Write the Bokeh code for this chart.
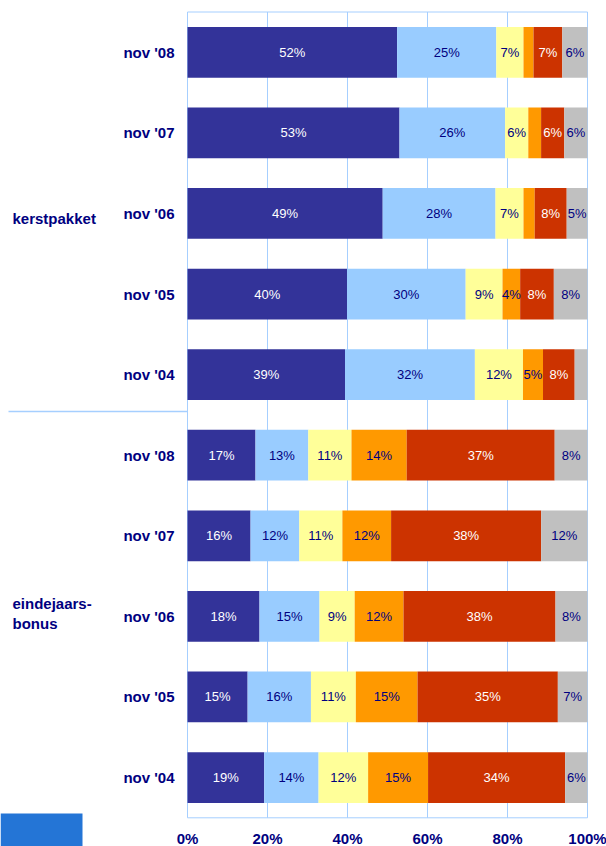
import math
from bokeh.plotting import figure
from bokeh.models import ColumnDataSource, Range1d, BoxAnnotation
from bokeh.core.properties import value
from bokeh.embed import file_html
from bokeh.resources import INLINE

# ---------------- data ----------------
groups = ["kerstpakket"] * 5 + ["eindejaars-bonus"] * 5
periods = ["nov '08", "nov '07", "nov '06", "nov '05", "nov '04"] * 2
# six answer categories (stack order left -> right), values in %
s1 = [52.4, 53.0, 48.8, 39.8, 39.3, 17.0, 15.8, 18.0, 15.0, 19.2]
s2 = [24.8, 26.4, 28.2, 29.6, 32.4, 13.2, 12.2, 15.0, 15.8, 13.6]
s3 = [6.8, 5.8, 7.0, 9.2, 12.0, 10.8, 10.8, 8.8, 11.2, 12.4]
s4 = [2.5, 3.2, 2.8, 4.4, 5.0, 13.8, 12.2, 12.2, 15.4, 15.0]
s5 = [7.2, 5.8, 8.0, 8.4, 7.9, 37.0, 37.6, 38.0, 35.0, 34.3]
s6 = [6.3, 5.8, 5.2, 8.4, 3.2, 8.2, 11.6, 8.0, 7.4, 5.6]
x_ticks = [0, 20, 40, 60, 80, 100]
x_tick_labels = ["0%", "20%", "40%", "60%", "80%", "100%"]

series = [s1, s2, s3, s4, s5, s6]
colors = ["#333399", "#99CCFF", "#FFFF99", "#FF9900", "#CC3300", "#C0C0C0"]
label_colors = ["white", "#000080", "#000080", "#000080", "white", "#000080"]

NAVY = "#000080"
GRID = "#A6CFFF"
FONT = "Liberation Sans"

# ---------------- layout (pixels) ----------------
W, H = 606, 846
PLOT_L, PLOT_R, PLOT_T, PLOT_B = 187, 587, 11.5, 817.3

n_rows = len(periods)
ys = [n_rows - 1 - i for i in range(n_rows)]
y_lo, y_hi = -0.5, n_rows - 0.5
px_x = (PLOT_R - PLOT_L) / 100.0
px_y = (PLOT_B - PLOT_T) / (y_hi - y_lo)
x_range = Range1d(-PLOT_L / px_x, 100 + (W - PLOT_R) / px_x)
y_range = Range1d(y_lo - (H - PLOT_B) / px_y, y_hi + PLOT_T / px_y)

# 100% stacked: normalise each row
totals = [sum(s[i] for s in series) for i in range(n_rows)]
norm = {f"n{k}": [s[i] / totals[i] * 100 for i in range(n_rows)] for k, s in enumerate(series)}
src = ColumnDataSource(dict(y=ys, **norm))

# segment labels
lx, ly, lt, lc = [], [], [], []
for i in range(n_rows):
    left = 0.0
    for k, s in enumerate(series):
        w = norm[f"n{k}"][i]
        if s[i] >= 4:
            lx.append(left + w / 2)
            ly.append(ys[i])
            lt.append(f"{round(s[i])}%")
            lc.append(label_colors[k])
        left += w
lab_src = ColumnDataSource(dict(x=lx, y=ly, t=lt, c=lc))

# ---------------- figure ----------------
p = figure(width=W, height=H, output_backend="svg", toolbar_location=None,
           x_range=x_range, y_range=y_range,
           x_axis_location=None, y_axis_location=None,
           min_border=0)
p.outline_line_color = None
p.background_fill_color = "white"
p.border_fill_color = "white"
p.xgrid.grid_line_color = None
p.ygrid.grid_line_color = None

# plot-area gridlines and border
p.segment(x0=x_ticks, y0=[y_lo] * len(x_ticks), x1=x_ticks, y1=[y_hi] * len(x_ticks),
          line_color=GRID, line_width=1)
p.segment(x0=[0, 0], y0=[y_lo, y_hi], x1=[100, 100], y1=[y_lo, y_hi],
          line_color=GRID, line_width=1)

# stacked bars
p.hbar_stack(list(norm.keys()), y="y", height=0.63, color=colors, line_color=None,
             source=src)

# value labels inside bars
p.text(x="x", y="y", text="t", text_color="c", source=lab_src,
       text_align="center", text_baseline="middle",
       text_font=value(FONT), text_font_size="13px")

# x tick labels
p.text(x=x_ticks, y=[y_lo] * len(x_ticks), text=x_tick_labels, y_offset=12,
       text_align="center", text_baseline="top",
       text_font=value(FONT), text_font_style="bold", text_font_size="15px",
       text_color=NAVY)

# period labels
p.text(x=[0] * n_rows, y=ys, text=periods, x_offset=-13,
       text_align="right", text_baseline="middle",
       text_font=value(FONT), text_font_style="bold", text_font_size="15px",
       text_color=NAVY)

# group labels
gx, gy, gt, goff = [], [], [], []
for g in dict.fromkeys(groups):
    rows = [ys[i] for i in range(n_rows) if groups[i] == g]
    mid = rows[len(rows) // 2]
    if "-" in g:
        a, b = g.split("-", 1)
        lines = [(a + "-", -13), (b, 7)]
    else:
        lines = [(g, 5)]
    for t, off in lines:
        gx.append(0); gy.append(mid); gt.append(t); goff.append(off)
p.text(x=gx, y=gy, text=gt, y_offset=goff, x_offset=-175,
       text_align="left", text_baseline="middle",
       text_font=value(FONT), text_font_style="bold", text_font_size="15px",
       text_color=NAVY)

# separator between the two groups (sits a few px above the row midpoint)
sep_y = (ys[4] + ys[5]) / 2 + 3.5 / px_y
p.ray(x=[0], y=[sep_y], length=PLOT_L - 8, length_units="screen", angle=math.pi,
      line_color=GRID, line_width=1.5)

# blue block bottom-left
p.add_layout(BoxAnnotation(left=0, right=82, bottom=0, top=33,
                           left_units="screen", right_units="screen",
                           bottom_units="screen", top_units="screen",
                           fill_color="#2475D6", fill_alpha=1, line_color=None))

open("out.html", "w").write(file_html(p, INLINE))
